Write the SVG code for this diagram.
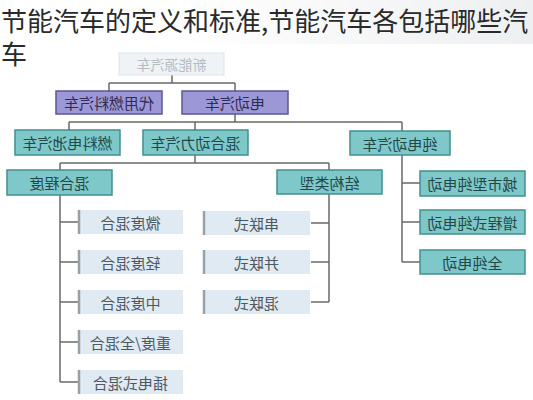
<svg xmlns="http://www.w3.org/2000/svg" width="533" height="400" viewBox="0 0 533 400">
<defs>
<linearGradient id="bg" x1="0" y1="0" x2="1" y2="0">
<stop offset="0" stop-color="#ffffff"/>
<stop offset="1" stop-color="#eeeff1"/>
</linearGradient>
<style>
.t{font-family:"Noto Sans CJK SC","Noto Sans",sans-serif;font-size:15px;text-anchor:middle;dominant-baseline:central}
.title{font-family:"Noto Sans CJK SC","Noto Sans",sans-serif;font-size:26px;fill:#2a2a2a}
.pur rect{fill:#9c98d6;stroke:#5c5794;stroke-width:1.5}
.pur text{fill:#2e2b55}
.teal rect{fill:#7ec8c9;stroke:#438e90;stroke-width:1.5}
.teal text{fill:#23484a}
.lite rect{fill:#dfeaf2}
.lite line{stroke:#9aa1a6;stroke-width:2.5}
.lite text{fill:#4e585f}
.top rect{fill:#eff3f6;stroke:#dde4ea;stroke-width:1}
.top text{fill:#b4bcc3;font-size:14px}
.conn path{fill:none;stroke:#6a6a6a;stroke-width:1.5}
</style>
</defs>
<rect width="533" height="400" fill="#ffffff"/>
<rect x="180" y="0" width="353" height="44" fill="url(#bg)"/>
<text class="title" x="1" y="31">节能汽车的定义和标准,节能汽车各包括哪些汽</text>
<text class="title" x="1" y="64">车</text>

<g class="conn">
<path d="M172 75V83M109 83H235M109 83V91M235 83V91"/>
<path d="M235 114V122M69 122H402M69 122V130M195 122V130M402 122V131"/>
<path d="M195 155V163M60 163H329M60 163V170M329 163V170"/>
<path d="M60 195V382M60 222H78M60 262H78M60 302H78M60 342H78M60 382H78"/>
<path d="M329 194V302M311 223H329M311 262H329M311 302H329"/>
<path d="M402 155V262M402 183H420M402 222H420M402 262H420"/>
</g>

<g id="n0" class="top"><rect x="119" y="53" width="105" height="22"/><text class="t" x="171.5" y="64" transform="matrix(-1 0 0 1 343 0)">新能源汽车</text></g>

<g id="p1" class="pur"><rect x="56" y="91" width="106" height="23"/><text class="t" x="109" y="102.5" transform="matrix(-1 0 0 1 218 0)">代用燃料汽车</text></g>
<g id="p2" class="pur"><rect x="182" y="91" width="106" height="23"/><text class="t" x="235" y="102.5" transform="matrix(-1 0 0 1 470 0)">电动汽车</text></g>

<g id="t1" class="teal"><rect x="15" y="130" width="105" height="25"/><text class="t" x="67.5" y="142.5" transform="matrix(-1 0 0 1 135 0)">燃料电池汽车</text></g>
<g id="t2" class="teal"><rect x="143" y="130" width="105" height="25"/><text class="t" x="195.5" y="142.5" transform="matrix(-1 0 0 1 391 0)">混合动力汽车</text></g>
<g id="t3" class="teal"><rect x="350" y="131" width="100" height="24"/><text class="t" x="400" y="143" transform="matrix(-1 0 0 1 800 0)">纯电动汽车</text></g>

<g id="t4" class="teal"><rect x="7" y="170" width="105" height="25"/><text class="t" x="59.5" y="182.5" transform="matrix(-1 0 0 1 119 0)">混合程度</text></g>
<g id="t5" class="teal"><rect x="277" y="170" width="105" height="24"/><text class="t" x="329.5" y="182" transform="matrix(-1 0 0 1 659 0)">结构类型</text></g>

<g id="r1" class="teal"><rect x="420" y="171" width="105" height="25"/><text class="t" x="472.5" y="183.5" transform="matrix(-1 0 0 1 945 0)">城市型纯电动</text></g>
<g id="r2" class="teal"><rect x="420" y="210" width="105" height="24"/><text class="t" x="472.5" y="222" transform="matrix(-1 0 0 1 945 0)">增程式纯电动</text></g>
<g id="r3" class="teal"><rect x="420" y="250" width="105" height="24"/><text class="t" x="472.5" y="262" transform="matrix(-1 0 0 1 945 0)">全纯电动</text></g>

<g id="l1" class="lite"><rect x="78" y="210" width="105" height="24"/><line x1="79" y1="210" x2="79" y2="234"/><text class="t" x="130.5" y="222" transform="matrix(-1 0 0 1 261 0)">微度混合</text></g>
<g id="l2" class="lite"><rect x="78" y="250" width="105" height="24"/><line x1="79" y1="250" x2="79" y2="274"/><text class="t" x="130.5" y="262" transform="matrix(-1 0 0 1 261 0)">轻度混合</text></g>
<g id="l3" class="lite"><rect x="78" y="290" width="105" height="24"/><line x1="79" y1="290" x2="79" y2="314"/><text class="t" x="130.5" y="302" transform="matrix(-1 0 0 1 261 0)">中度混合</text></g>
<g id="l4" class="lite"><rect x="78" y="330" width="105" height="24"/><line x1="79" y1="330" x2="79" y2="354"/><text class="t" x="130.5" y="342" transform="matrix(-1 0 0 1 261 0)">重度/全混合</text></g>
<g id="l5" class="lite"><rect x="78" y="370" width="105" height="24"/><line x1="79" y1="370" x2="79" y2="394"/><text class="t" x="130.5" y="382" transform="matrix(-1 0 0 1 261 0)">插电式混合</text></g>

<g id="m1" class="lite"><rect x="203" y="211" width="107" height="24"/><line x1="204" y1="211" x2="204" y2="235"/><text class="t" x="256.5" y="223" transform="matrix(-1 0 0 1 513 0)">串联式</text></g>
<g id="m2" class="lite"><rect x="203" y="250" width="107" height="24"/><line x1="204" y1="250" x2="204" y2="274"/><text class="t" x="256.5" y="262" transform="matrix(-1 0 0 1 513 0)">并联式</text></g>
<g id="m3" class="lite"><rect x="203" y="290" width="107" height="24"/><line x1="204" y1="290" x2="204" y2="314"/><text class="t" x="256.5" y="302" transform="matrix(-1 0 0 1 513 0)">混联式</text></g>
</svg>
